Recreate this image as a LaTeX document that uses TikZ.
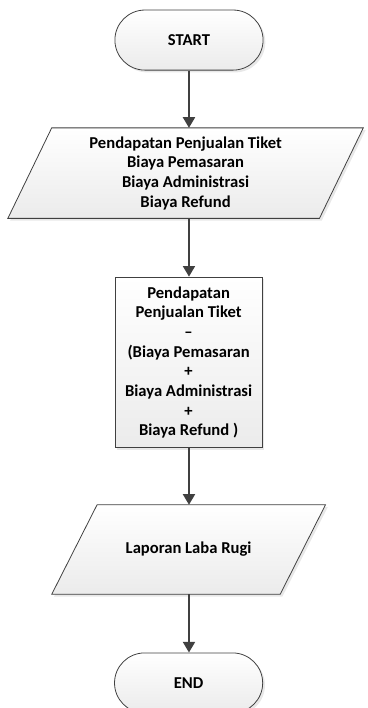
\documentclass[tikz,border=0pt]{standalone}
\usepackage{fontspec}
\setmainfont{Carlito}
\usetikzlibrary{arrows.meta,shadows,backgrounds}
\usepackage{xcolor}
\definecolor{cline}{HTML}{404040}
\definecolor{cshade}{HTML}{EBEBEB}

\begin{document}
\begin{tikzpicture}[
  arr/.style  = {-{Triangle[length=8pt,width=9pt]}, line width=1.5pt, color=cline},
  look/.style = {draw=cline, line width=0.6pt, top color=white, bottom color=cshade,
                 drop shadow={shadow xshift=0.06cm, shadow yshift=-0.06cm, fill=black!15, opacity=0.6}},
  txt/.style  = {text centered, align=center, inner sep=0pt,
                 font=\bfseries\fontsize{12.5}{14.8}\selectfont},
  term/.style = {look, txt, rectangle, rounded corners=0.795cm,
                 minimum width=3.92cm, minimum height=1.59cm},
  iobox/.style= {txt, rectangle},
  pbox/.style = {look, txt, rectangle, minimum width=3.89cm, minimum height=4.52cm}
]
\useasboundingbox (0,0) rectangle (9.736,-18.732);

%% ── Nodes ─────────────────────────────────────────────────────────────────
\node[term]  (start) at (5.00,  -1.06) {START};
\node[iobox, minimum width=8.23cm, minimum height=2.38cm] (in)  at (4.91, -4.58)
  {Pendapatan Penjualan Tiket\\Biaya Pemasaran\\Biaya Administrasi\\Biaya Refund};
\node[pbox]  (calc)  at (4.99,  -9.59)
  {Pendapatan\\Penjualan Tiket\\--\\(Biaya Pemasaran\\+\\Biaya Administrasi\\+\\Biaya Refund )};
\node[iobox, minimum width=6.03cm, minimum height=2.355cm] (out) at (4.99, -14.54)
  {Laporan Laba Rugi};
\node[term]  (end)   at (4.99, -18.07) {END};

%% ── Parallelograms (behind the text) ──────────────────────────────────────
\begin{scope}[on background layer]
  \draw[look] ([xshift=-0.58cm]in.south west) -- ([xshift=-0.58cm]in.south east)
    -- ([xshift=0.58cm]in.north east) -- ([xshift=0.58cm]in.north west) -- cycle;
  \draw[look] ([xshift=-0.6cm]out.south west) -- ([xshift=-0.6cm]out.south east)
    -- ([xshift=0.6cm]out.north east) -- ([xshift=0.6cm]out.north west) -- cycle;
\end{scope}

%% ── Arrows ────────────────────────────────────────────────────────────────
\draw[arr] (start.south) -- (start.south |- in.north);
\draw[arr] (start.south |- in.south) -- (start.south |- calc.north);
\draw[arr] (start.south |- calc.south) -- (start.south |- out.north);
\draw[arr] (start.south |- out.south) -- (start.south |- end.north);

\end{tikzpicture}
\end{document}
